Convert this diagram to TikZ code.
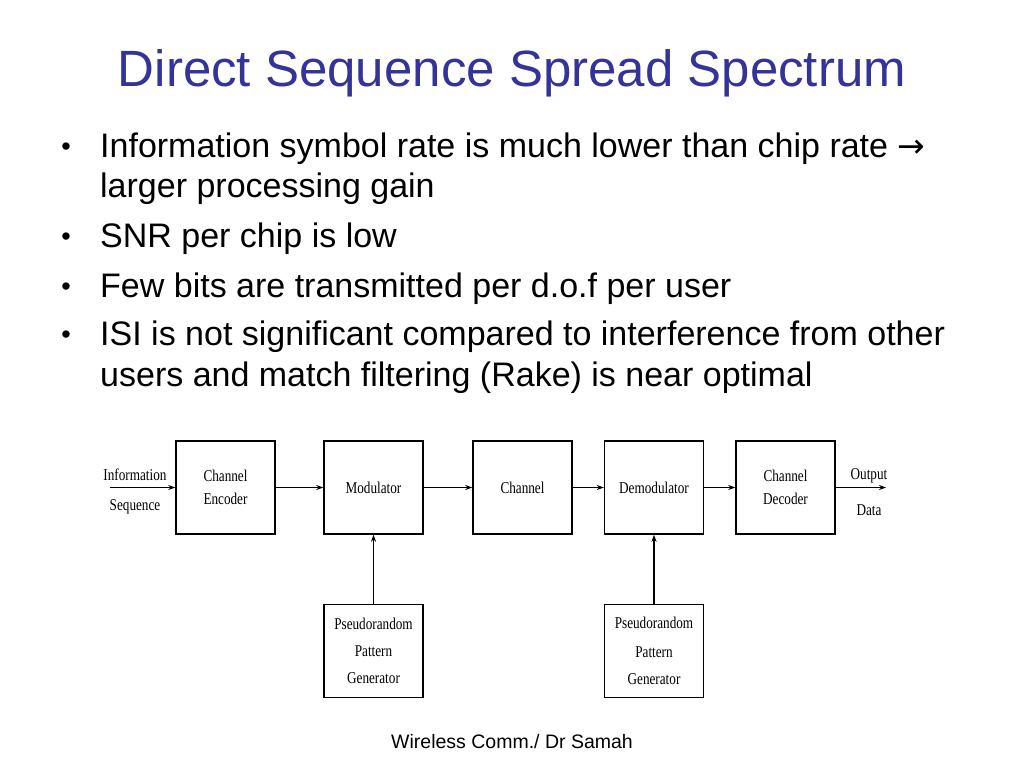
\documentclass[tikz,border=0pt]{standalone}
\usepackage{fontspec}
\setmainfont{Liberation Sans}
\newfontfamily\diagfont{Liberation Serif}[FakeStretch=0.8]
\newfontfamily\symfont{DejaVu Sans}
\usetikzlibrary{arrows.meta}
\definecolor{titleblue}{RGB}{51,51,153}
\begin{document}
\begin{tikzpicture}[x=1pt,y=-1pt,
  blk/.style={draw, line width=1.4pt, minimum width=99pt, minimum height=93pt,
    inner sep=0pt, align=center, font=\diagfont\fontsize{16.5}{23}\selectfont},
  pnblk/.style={blk, font=\diagfont\fontsize{16.5}{27}\selectfont},
  lab/.style={align=center, inner sep=0pt, font=\diagfont\fontsize{16.5}{30}\selectfont},
  conn/.style={line width=1.3pt, -{Stealth[length=7pt,width=5pt]}},
  bul/.style={anchor=base west, inner sep=0pt, font=\fontsize{34}{40}\selectfont},
  dot/.style={anchor=base, inner sep=0pt, font=\fontsize{27}{30}\selectfont}
]
\useasboundingbox (0,0) rectangle (1024,768);
\fill[white] (0,0) rectangle (1024,768);

% title
\node[anchor=base, inner sep=0pt, text=titleblue, font=\fontsize{51}{60}\selectfont] (title) at (512,86) {Direct Sequence Spread Spectrum};

% bullets
\node[dot] (b1) at (66,155) {•};
\node[bul] (t1) at (100,157) {Information symbol rate is much lower than chip rate {\symfont\fontsize{33}{30}\selectfont →}};
\node[bul] (t1b) at (100,197) {larger processing gain};
\node[dot] (b2) at (66,245) {•};
\node[bul] (t2) at (100,247) {SNR per chip is low};
\node[dot] (b3) at (66,295) {•};
\node[bul] (t3) at (100,297) {Few bits are transmitted per d.o.f per user};
\node[dot] (b4) at (66,343) {•};
\node[bul] (t4) at (100,345) {ISI is not significant compared to interference from other};
\node[bul] (t4b) at (100,386) {users and match filtering (Rake) is near optimal};

% diagram
\node[blk] (enc) at (225.5,487.5) {Channel\\Encoder};
\node[blk] (mod) at (373.5,487.5) {Modulator};
\node[blk] (chan) at (522.5,487.5) {Channel};
\node[blk] (demod) at (654,487.5) {Demodulator};
\node[blk] (dec) at (785.5,487.5) {Channel\\Decoder};
\node[pnblk] (pn1) at (373.5,651) {Pseudorandom\\Pattern\\Generator};
\node[pnblk] (pn2) at (654,651) {\raisebox{2pt}{Pseudorandom}\\Pattern\\Generator};

\coordinate (in) at (110,487.5);
\coordinate (out) at (886,487.5);
\node[lab] (inlab) at (135,491) {Information\\Sequence};
\node[lab] (outlab) at (869,492) {Output\\[6pt]Data};

\draw[conn] (in) -- (enc);
\draw[conn] (enc) -- (mod);
\draw[conn] (mod) -- (chan);
\draw[conn] (chan) -- (demod);
\draw[conn] (demod) -- (dec);
\draw[conn] (dec) -- (out);
\draw[conn] (pn1.north) -- (mod.south);
\draw[conn] (pn2.north) -- (demod.south);

% footer
\node[anchor=base, inner sep=0pt, font=\fontsize{19.5}{22}\selectfont] (foot) at (512,748) {Wireless Comm./ Dr Samah};
\end{tikzpicture}
\end{document}
